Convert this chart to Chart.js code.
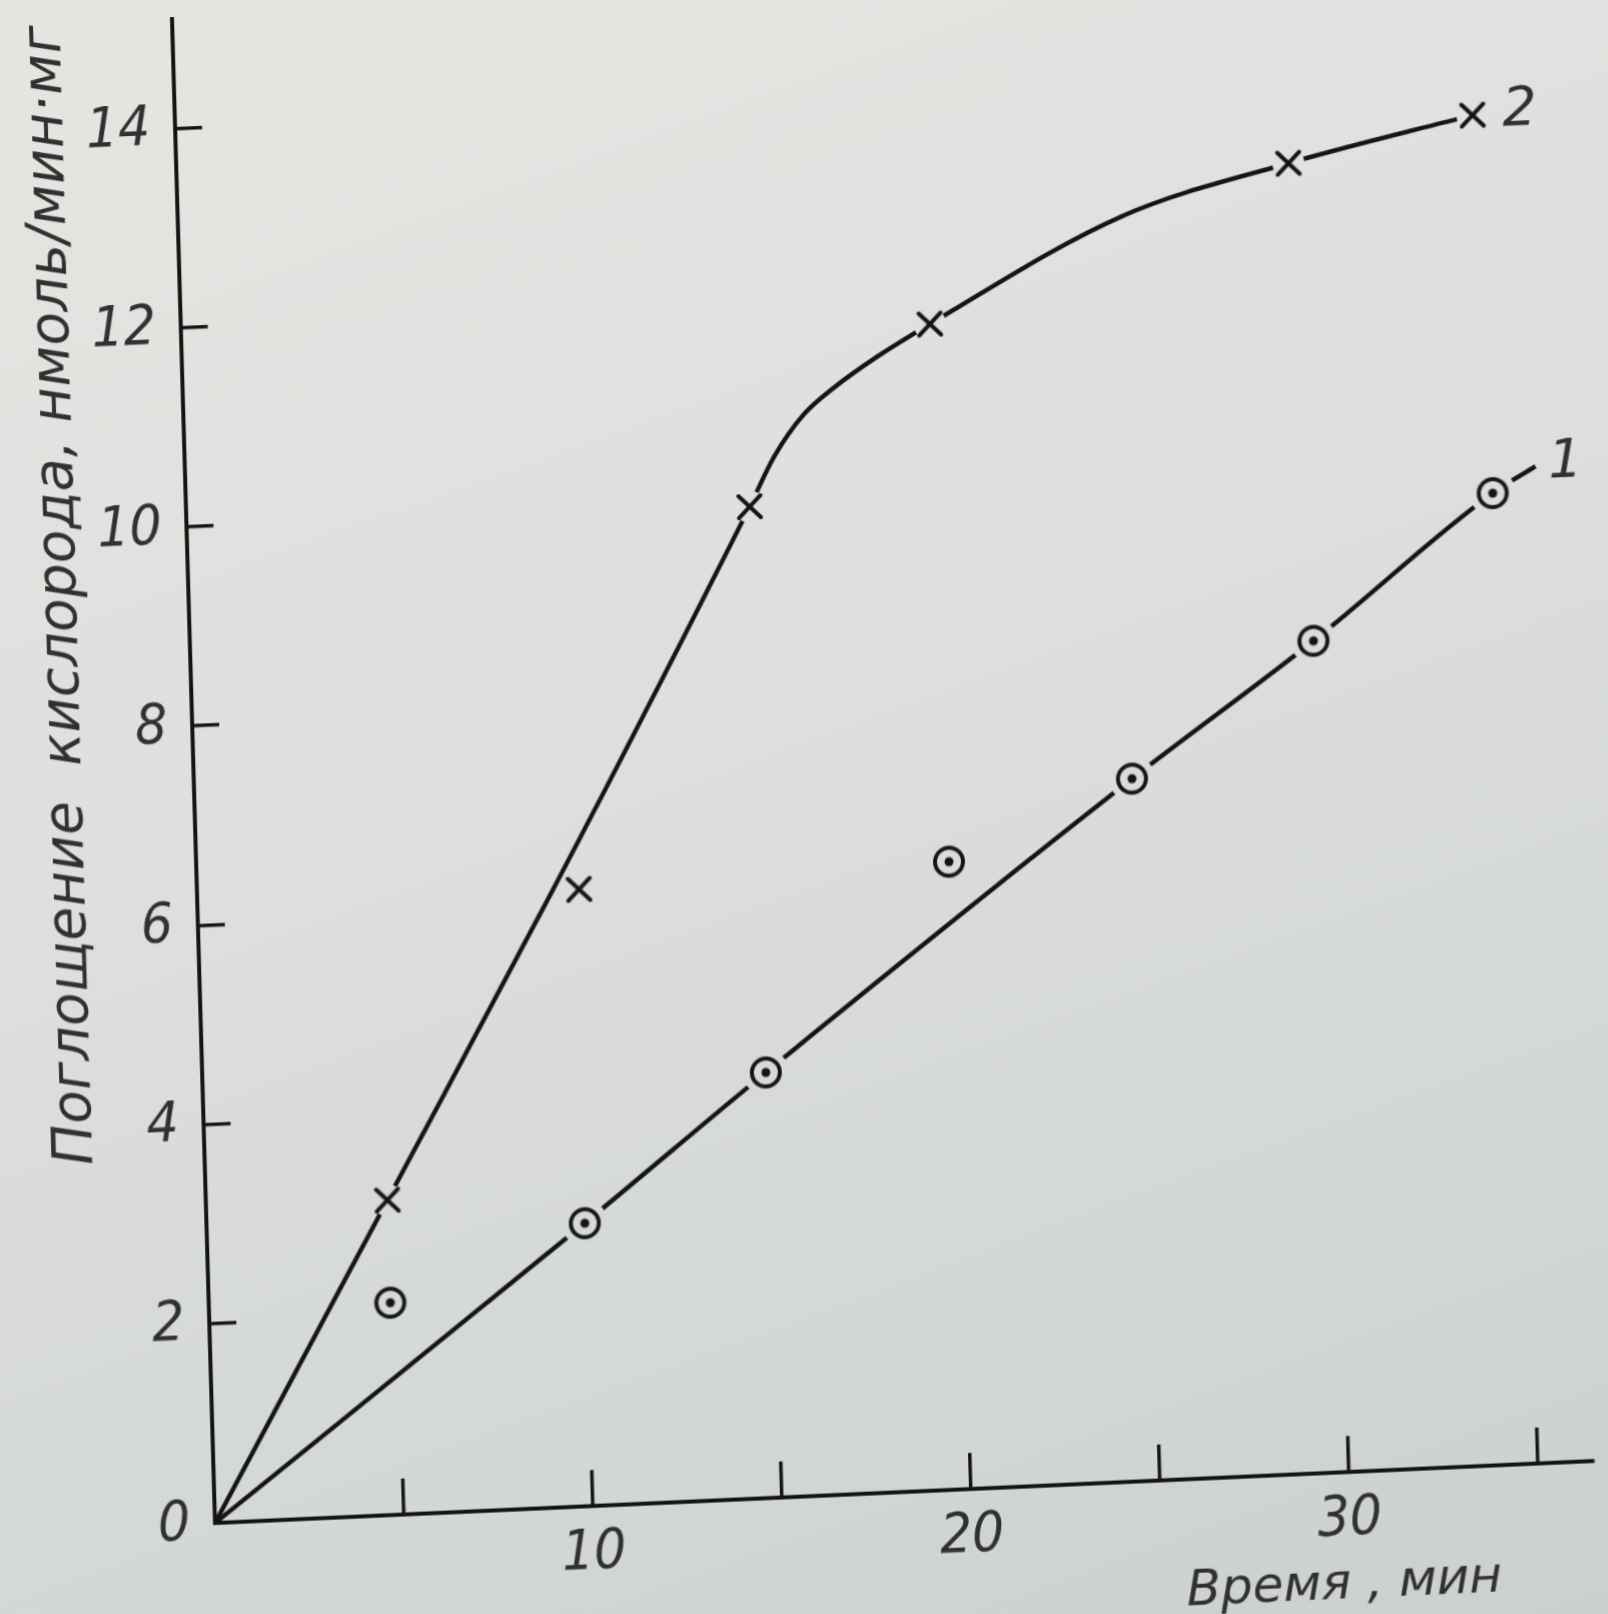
<!DOCTYPE html>
<html>
<head>
<meta charset="utf-8">
<script src="https://cdn.jsdelivr.net/npm/chart.js@4.4.1/dist/chart.umd.min.js"></script>
<style>
  html, body {
    margin: 0; padding: 0; width: 1608px; height: 1614px; overflow: hidden;
    background: linear-gradient(160deg, #e3e6e1 0%, #dcdfdb 45%, #d3d7d5 75%, #cbcfcd 100%);
  }
  /* the scan is slightly skewed: shear the whole drawing round the origin */
  #wrap {
    position: absolute; left: 0; top: 0; width: 1608px; height: 1720px;
    transform-origin: 215px 1523px;
    transform: matrix(1, -0.045, 0.0286, 1, 0, 0);
  }
</style>
</head>
<body>
<div id="wrap"><canvas id="chart" width="1608" height="1720"></canvas></div>
<script>
// measured points (time, min / O2 uptake, nmol/min·mg)
const S1_X = [4.8, 10.0, 14.9, 19.9, 24.8, 29.7, 34.55];
const S1_Y = [2.13, 2.84, 4.27, 6.3, 7.05, 8.35, 9.75];
const S2_X = [4.8, 10.1, 14.9, 19.8, 29.4, 34.3];
const S2_Y = [3.16, 6.19, 9.95, 11.7, 13.15, 13.55];

// hand drawn curves
const CURVE1_X = [0, 10.0, 14.9, 24.8, 29.7, 34.55, 35.7];
const CURVE1_Y = [0, 2.84, 4.27, 7.05, 8.35, 9.75, 10.0];
const CURVE2_X = [0, 4.8, 9.4, 14.9, 15.6, 16.4, 17.2, 18.4, 19.8, 25.0, 29.4, 34.3];
const CURVE2_Y = [0, 3.16, 6.19, 9.95, 10.45, 10.85, 11.1, 11.4, 11.7, 12.7, 13.15, 13.55];

const X_LABELED = [10, 20, 30];
const Y_LABELED = [0, 2, 4, 6, 8, 10, 12, 14];
const SERIES_NAMES = ["1", "2"];
const X_TITLE = "Время , мин";
const Y_TITLE = "Поглощение  кислорода, нмоль/мин·мг";

const INK = "#141414";
const TEXT = "#303030";
const TICK_FONT = { family: '"DejaVu Sans Condensed", "Liberation Sans", sans-serif', style: "italic", size: 56 };
const TITLE_FAMILY = '"DejaVu Sans", sans-serif';

// marker images
function makeCross() {
  const c = document.createElement("canvas");
  c.width = c.height = 30;
  const g = c.getContext("2d");
  g.strokeStyle = INK; g.lineWidth = 4; g.lineCap = "round";
  g.beginPath();
  g.moveTo(4, 4); g.lineTo(26, 26);
  g.moveTo(26, 4); g.lineTo(4, 26);
  g.stroke();
  return c;
}
function makeRing() {
  const c = document.createElement("canvas");
  c.width = c.height = 40;
  const g = c.getContext("2d");
  g.strokeStyle = INK; g.lineWidth = 4;
  g.beginPath(); g.arc(20, 20, 14, 0, Math.PI * 2); g.stroke();
  g.fillStyle = INK;
  g.beginPath(); g.arc(20, 20, 4.5, 0, Math.PI * 2); g.fill();
  return c;
}

const pts = (xs, ys) => xs.map((x, i) => ({ x: x, y: ys[i] }));

// the curves stop short of each marker
const GAP_R = { 0: 23, 1: 16 };
const gapPlugin = {
  id: "gaps",
  afterDatasetDraw(chart, args) {
    const link = { 2: 0, 3: 1 }[args.index];
    if (link === undefined) return;
    const c = chart.ctx;
    c.save();
    c.globalCompositeOperation = "destination-out";
    chart.getDatasetMeta(link).data.forEach(p => {
      c.beginPath(); c.arc(p.x, p.y, GAP_R[link], 0, Math.PI * 2); c.fill();
    });
    c.restore();
  }
};

const textPlugin = {
  id: "texts",
  afterDraw(chart) {
    const { ctx, scales: { x, y } } = chart;
    ctx.save();
    ctx.fillStyle = TEXT;
    ctx.textBaseline = "middle";
    ctx.font = "italic 54px " + TITLE_FAMILY;
    ctx.textAlign = "left";
    ctx.fillText(SERIES_NAMES[1], x.getPixelForValue(S2_X[S2_X.length - 1]) + 30, y.getPixelForValue(S2_Y[S2_Y.length - 1]) - 2);
    ctx.textAlign = "center";
    ctx.fillText(SERIES_NAMES[0], x.getPixelForValue(CURVE1_X[CURVE1_X.length - 1]) + 30, y.getPixelForValue(CURVE1_Y[CURVE1_Y.length - 1]) - 2);
    ctx.font = "italic 50px " + TITLE_FAMILY;
    ctx.fillText(X_TITLE, x.getPixelForValue(29.8), x.top + 113);
    ctx.restore();
  }
};

const ctx = document.getElementById("chart").getContext("2d");
new Chart(ctx, {
  type: "scatter",
  data: {
    datasets: [
      { label: SERIES_NAMES[0], data: pts(S1_X, S1_Y), pointStyle: makeRing(), pointRadius: 14, order: 0 },
      { label: SERIES_NAMES[1], data: pts(S2_X, S2_Y), pointStyle: makeCross(), pointRadius: 12, order: 0 },
      { label: "curve 1", data: pts(CURVE1_X, CURVE1_Y), showLine: true, pointRadius: 0,
        borderColor: INK, borderWidth: 4.5, cubicInterpolationMode: "monotone", order: 1 },
      { label: "curve 2", data: pts(CURVE2_X, CURVE2_Y), showLine: true, pointRadius: 0,
        borderColor: INK, borderWidth: 4.5, cubicInterpolationMode: "monotone", order: 1 }
    ]
  },
  options: {
    responsive: false,
    animation: false,
    layout: { padding: { top: 19, left: 0, right: 0, bottom: 0 } },
    plugins: { legend: { display: false }, tooltip: { enabled: false } },
    scales: {
      x: {
        type: "linear", min: 0, max: 36.47,
        afterFit: s => { s.height = 197; s.paddingLeft = 0; s.paddingRight = 0; },
        ticks: {
          stepSize: 5, includeBounds: false, autoSkip: false, maxRotation: 0,
          padding: 50, color: TEXT, font: TICK_FONT,
          callback: v => X_LABELED.includes(v) ? String(v) : ""
        },
        grid: { drawOnChartArea: false, drawTicks: true, tickLength: -36, color: INK, lineWidth: 3.5 },
        border: { display: true, color: INK, width: 4 }
      },
      y: {
        type: "linear", min: 0, max: 15.1,
        afterFit: s => { s.width = 215; s.paddingTop = 0; s.paddingBottom = 0; },
        ticks: {
          stepSize: 2, includeBounds: false, padding: 52, color: TEXT, font: TICK_FONT,
          callback: v => Y_LABELED.includes(v) ? String(v) : ""
        },
        grid: { drawOnChartArea: false, drawTicks: true, tickLength: -27, color: INK, lineWidth: 3.5 },
        border: { display: true, color: INK, width: 4 },
        title: {
          display: true, text: Y_TITLE, align: "end", color: TEXT,
          padding: { top: 55, bottom: 0 },
          font: { family: TITLE_FAMILY, style: "italic", size: 55 }
        }
      }
    }
  },
  plugins: [gapPlugin, textPlugin]
});
</script>
</body>
</html>
